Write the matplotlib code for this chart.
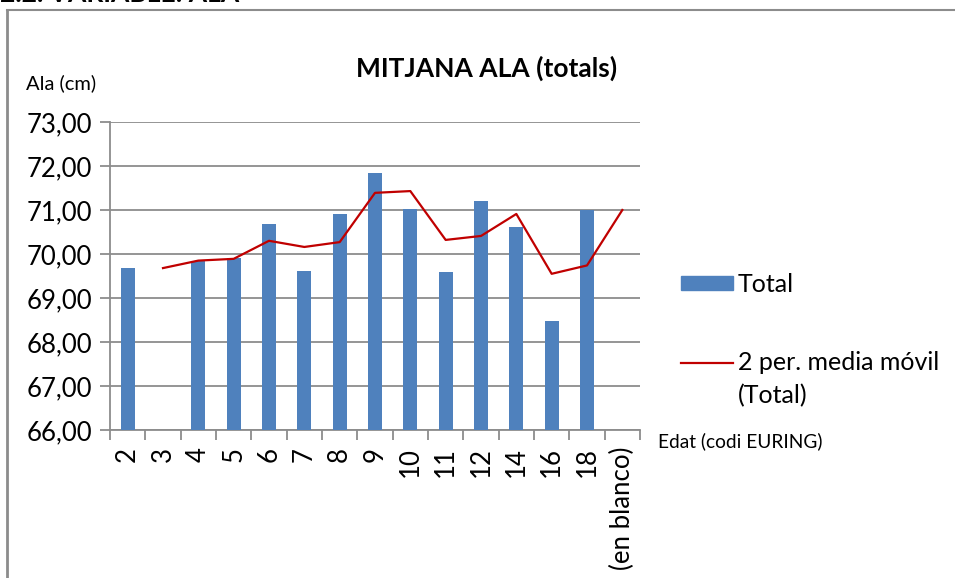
import numpy as np
import matplotlib.pyplot as plt
from matplotlib.lines import Line2D
from matplotlib.patches import Rectangle

plt.rcParams['font.family'] = ['Lato', 'DejaVu Sans']

# Dades llegides del gràfic
categories = ['2', '3', '4', '5', '6', '7', '8', '9', '10', '11', '12', '14', '16', '18', '(en blanco)']
total = [69.68, np.nan, 69.85, 69.92, 70.69, 69.61, 70.92, 71.83, 71.02, 69.58, 71.21, 70.61, 68.48, 71.00, np.nan]
media_movil = [np.nan, 69.68, 69.85, 69.89, 70.30, 70.16, 70.27, 71.39, 71.43, 70.32, 70.41, 70.91, 69.55, 69.74, 71.00]

grey = '#8c8c8c'
blue = '#4F81BD'
red = '#C00000'

fig = plt.figure(figsize=(9.55, 5.78), dpi=100)
W, H = 955, 578
ax = fig.add_axes([110 / W, 1 - 430 / H, 530 / W, 308 / H])

x = np.arange(len(categories))
ax.bar(x, np.nan_to_num(np.array(total) - 66), bottom=66, width=0.4, color=blue, zorder=3)
ax.plot(x, media_movil, color=red, linewidth=1.6, zorder=4)

ax.set_xlim(-0.5, len(categories) - 0.5)
ax.set_ylim(66, 73)
ax.set_yticks(np.arange(66, 74))
ax.set_yticklabels([f'{v:.2f}'.replace('.', ',') for v in np.arange(66, 74)], fontsize=18.5)
ax.yaxis.grid(True, color=grey, linewidth=1.3, zorder=0)
ax.tick_params(axis='y', length=7, color=grey, width=1.3, pad=6)

# marques a les fronteres de categoria
ax.set_xticks(np.arange(-0.5, len(categories)), minor=False)
ax.set_xticklabels([''] * (len(categories) + 1))
ax.set_xticks(x, minor=True)
ax.set_xticklabels(categories, minor=True, rotation=90, fontsize=18.5, va='top')
ax.tick_params(axis='x', which='major', length=7, color=grey, width=1.3)
ax.tick_params(axis='x', which='minor', length=0, pad=12)

for s in ['top', 'right']:
    ax.spines[s].set_visible(False)
for s in ['left', 'bottom']:
    ax.spines[s].set_color(grey)
    ax.spines[s].set_linewidth(1.3)

fig.text(487 / W, 1 - 68 / H, 'MITJANA ALA (totals)', ha='center', va='center',
         fontsize=19, fontweight='bold')
fig.text(26 / W, 1 - 83 / H, 'Ala (cm)', ha='left', va='center', fontsize=14.5)
fig.text(658 / W, 1 - 441 / H, 'Edat (codi EURING)', ha='left', va='center', fontsize=13.8)

# llegenda
fig.add_artist(Rectangle((681 / W, 1 - 290 / H), 52 / W, 14 / H, color=blue,
                         transform=fig.transFigure))
fig.text(738 / W, 1 - 284 / H, 'Total', ha='left', va='center', fontsize=18)
fig.add_artist(Line2D([681 / W, 733 / W], [1 - 363 / H, 1 - 363 / H], color=red, linewidth=1.6))
fig.text(738 / W, 1 - 363 / H, '2 per. media móvil', ha='left', va='center', fontsize=18)
fig.text(738 / W, 1 - 396 / H, '(Total)', ha='left', va='center', fontsize=18)

# marc exterior i títol de secció tallat
fig.add_artist(Line2D([7 / W, 7 / W], [0, 1 - 10 / H], color=grey, linewidth=2))
fig.add_artist(Line2D([7 / W, 1], [1 - 10 / H, 1 - 10 / H], color=grey, linewidth=1.5))
fig.text(0, 1 + 6 / H, '2.2. VARIABLE: ALA', ha='left', va='center', fontsize=19, fontweight='bold')

fig.savefig('out.png', dpi=100)
